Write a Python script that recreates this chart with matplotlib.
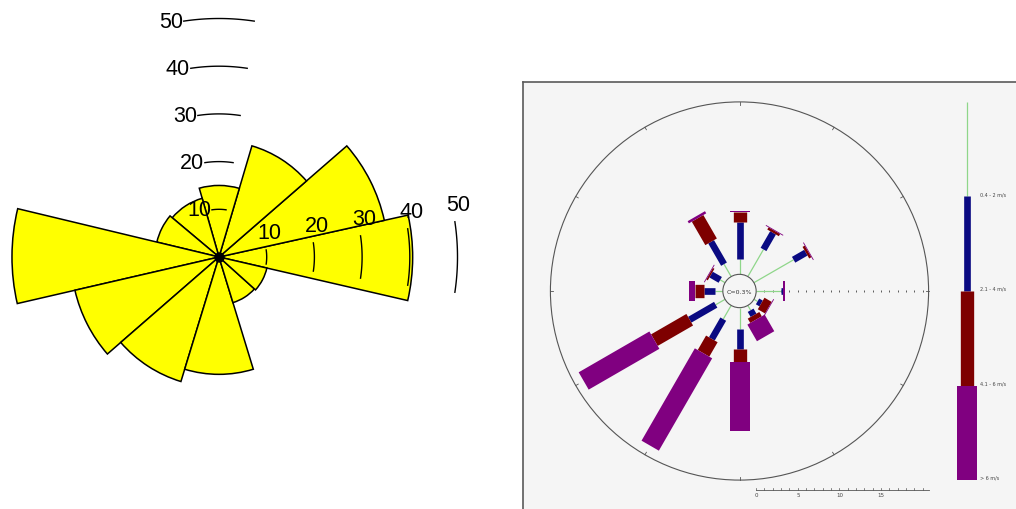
import numpy as np
import matplotlib
matplotlib.use("Agg")
import matplotlib.pyplot as plt
from matplotlib.patches import Circle

# ---- left rose: 12 sectors (degrees, counter-clockwise from east) ----
sector_start = [-13, 12.5, 41, 73.5, 106, 140, 166.5, 193, 221, 253, 287, 318]
sector_end = [12.5, 41, 73.5, 106, 140, 166.5, 193, 221, 253, 287, 318, 347]
sector_freq = [40.6, 35.5, 24.3, 15.0, 12.8, 13.4, 43.4, 31.0, 27.3, 24.6, 10.0, 10.3]
ring_values = [10, 20, 30, 40, 50]
ring_labels = ["10", "20", "30", "40", "50"]

# ---- right rose: frequency (%) per direction and speed class ----
directions = [0, 30, 60, 90, 120, 150, 180, 210, 240, 270, 300, 330]
speed_classes = ["0.4 - 2 m/s", "2.1 - 4 m/s", "4.1 - 6 m/s", "> 6 m/s"]
freq_04_2 = [1.84, 3.76, 5.5, 3.0, 0.5, 0.67, 2.56, 1.9, 1.3, 0.92, 0.67, 1.72]
freq_21_4 = [4.4, 2.3, 1.7, 0.2, 0.5, 0.7, 2.4, 2.74, 3.6, 1.4, 1.27, 3.1]
freq_41_6 = [1.28, 0.3, 0.3, 0.05, 1.0, 0.6, 1.6, 2.0, 4.9, 1.0, 0.2, 3.25]
freq_6up = [0.1, 0.1, 0.1, 0.2, 0.1, 2.3, 8.3, 12.8, 9.8, 0.8, 0.1, 0.3]
calm_label = "C=0.3%"
scale_ticks = [0, 5, 10, 15]

W, H = 1016, 510
fig = plt.figure(figsize=(W / 100, H / 100), dpi=100)

# ================= left chart =================
L_SCALE = 4.77          # pixels per unit
lcx, lcy = 219, 258     # centre in pixels (from top-left)
rmax = 56
rpx = rmax * L_SCALE
axl = fig.add_axes([(lcx - rpx) / W, (H - lcy - rpx) / H, 2 * rpx / W, 2 * rpx / H],
                   projection="polar")
axl.set_ylim(0, rmax)
axl.set_axis_off()

starts = np.radians(sector_start)
widths = np.radians(np.array(sector_end) - np.array(sector_start))
axl.bar(starts, sector_freq, width=widths, bottom=0, align="edge",
        color="#ffff00", edgecolor="black", linewidth=1.1)

half = np.radians(8.5)
for r, lab in zip(ring_values, ring_labels):
    th = np.linspace(np.pi / 2 - half, np.pi / 2 + half, 30)
    axl.plot(th, np.full_like(th, r), color="black", lw=1.0, zorder=5)
    th = np.linspace(-half, half, 30)
    axl.plot(th, np.full_like(th, r), color="black", lw=1.0, zorder=5)
    axl.annotate(lab, xy=(np.pi / 2 + half, r), xytext=(-0.5, 0),
                 textcoords="offset points", ha="right", va="center",
                 fontsize=15.5, family="Liberation Sans", zorder=6)
    axl.annotate(lab, xy=(half, r), xytext=(2.5, 5),
                 textcoords="offset points", ha="center", va="bottom",
                 fontsize=15.5, family="Liberation Sans", zorder=6)

axl.plot(0, 0, "o", color="black", markersize=6.5, zorder=7)

# ================= right chart =================
R_SCALE = 8.33          # pixels per percent
rcx, rcy = 739.5, 292
px0, px1, py0, py1 = 523, 1024, 83, 518
axr = fig.add_axes([px0 / W, (H - py1) / H, (px1 - px0) / W, (py1 - py0) / H])
axr.set_xlim((px0 - rcx) / R_SCALE, (px1 - rcx) / R_SCALE)
axr.set_ylim((rcy - py1) / R_SCALE, (rcy - py0) / R_SCALE)
axr.set_facecolor("#f5f5f5")
axr.set_xticks([])
axr.set_yticks([])
for s in axr.spines.values():
    s.set_color("#5a5a5a")
    s.set_linewidth(1.2)

INNER = 2.0
OUTER = 22.7
colors = ["#8fd68a", "#0a0a82", "#7e0000", "#800080"]
widths_pt = [0.9, 4.8, 9.6, 14.4]

axr.add_patch(Circle((0, 0), OUTER, fill=False, ec="#555555", lw=0.8))
for a in np.radians(np.arange(0, 360, 30)):
    axr.plot([OUTER * np.sin(a), (OUTER - 0.35) * np.sin(a)],
             [OUTER * np.cos(a), (OUTER - 0.35) * np.cos(a)], color="#555555", lw=0.6)

# dotted scale along east
dots = INNER + np.arange(1, 21)
axr.plot(dots, np.zeros_like(dots), ls="none", marker="|", ms=1.6, mew=0.6, color="#444444")

series = [freq_04_2, freq_21_4, freq_41_6, freq_6up]
for i, d in enumerate(directions):
    a = np.radians(d)
    ux, uy = np.sin(a), np.cos(a)
    r0 = INNER
    for k, vals in enumerate(series):
        r1 = r0 + vals[i]
        axr.plot([r0 * ux, r1 * ux], [r0 * uy, r1 * uy], color=colors[k],
                 lw=widths_pt[k], solid_capstyle="butt", zorder=3 + k * 0.1)
        r0 = r1

axr.add_patch(Circle((0, 0), INNER, fc="#f5f5f5", ec="#555555", lw=0.8, zorder=5))
axr.text(0, 0, calm_label, ha="center", va="center", fontsize=4.5, color="#333333", zorder=6)

# scale bar at the bottom
yb = (rcy - 491) / R_SCALE
axr.plot([INNER, OUTER], [yb, yb], color="#555555", lw=0.6)
for t in range(0, 21):
    axr.plot([INNER + t, INNER + t], [yb, yb + 0.22], color="#555555", lw=0.5)
for t in scale_ticks:
    axr.text(INNER + t, yb - 0.3, str(t), ha="center", va="top", fontsize=4, color="#444444")

# legend column
xl = (966.7 - rcx) / R_SCALE
seg = OUTER / 2
for k, lab in enumerate(speed_classes):
    ytop = OUTER - k * seg
    axr.plot([xl, xl], [ytop, ytop - seg], color=colors[k], lw=widths_pt[k],
             solid_capstyle="butt")
    axr.text(xl + 1.6, ytop - seg + 0.35, lab, ha="left", va="center",
             fontsize=3.5, color="#444444")

fig.savefig("out.png", dpi=100)
